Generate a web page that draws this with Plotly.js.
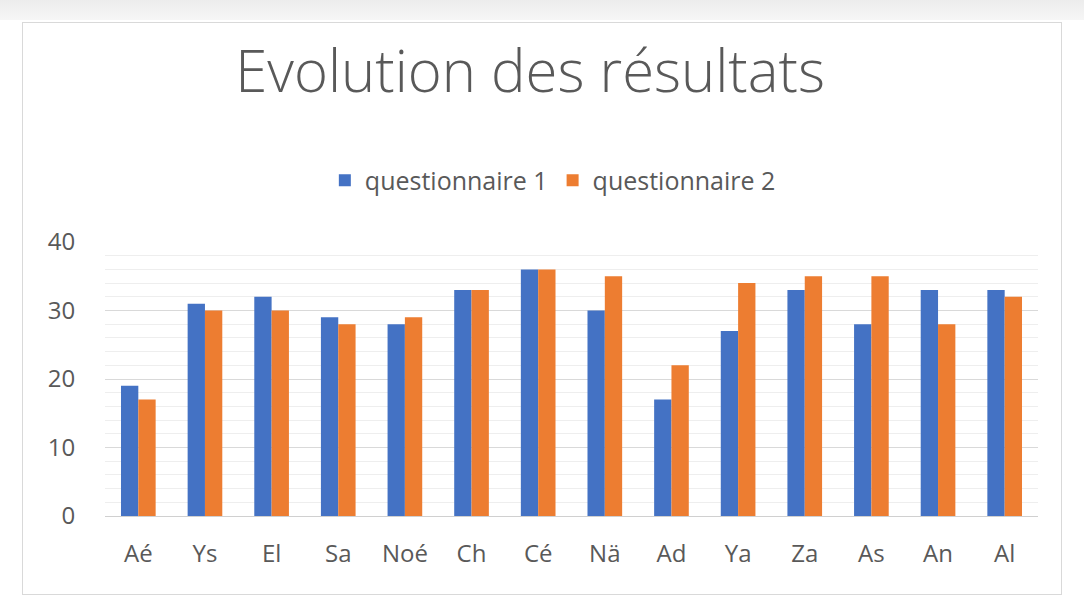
<!DOCTYPE html>
<html>
<head>
<meta charset="utf-8">
<script src="https://cdn.plot.ly/plotly-3.0.1.min.js"></script>
<style>
html,body{margin:0;padding:0;background:#ffffff;}
#top{position:absolute;left:0;top:0;width:1084px;height:20px;background:linear-gradient(#ececec,#f6f6f6);}
#box{position:absolute;left:22px;top:22px;width:1038px;height:571px;border:1px solid #d9d9d9;background:#fff;}
#chart{position:absolute;left:0;top:0;width:1084px;height:608px;}
</style>
</head>
<body>
<div id="top"></div>
<div id="box"></div>
<div id="chart"></div>
<script>
const categories = ["Aé","Ys","El","Sa","Noé","Ch","Cé","Nä","Ad","Ya","Za","As","An","Al"];
const questionnaire1 = [19,31,32,29,28,33,36,30,17,27,33,28,33,33];
const questionnaire2 = [17,30,30,28,29,33,36,35,22,34,35,35,28,32];
const seriesNames = ["questionnaire 1","questionnaire 2"];

const traces = [
  {type:'bar', x:categories, y:questionnaire1, name:seriesNames[0], marker:{color:'#4472C4'}},
  {type:'bar', x:categories, y:questionnaire2, name:seriesNames[1], marker:{color:'#ED7D31'}}
];

const layout = {
  width:1084, height:608,
  paper_bgcolor:'rgba(0,0,0,0)', plot_bgcolor:'rgba(0,0,0,0)',
  margin:{l:105, r:46, t:242, b:92},
  barmode:'group', bargap:0.48, bargroupgap:0,
  font:{family:'Open Sans, sans-serif', color:'#595959', size:24},
  title:{text:'Evolution des résultats', x:0.489, xref:'container', xanchor:'center', y:0.882, yref:'container', yanchor:'middle',
         font:{family:'Open Sans, sans-serif', size:58, color:'#595959', weight:300}},
  showlegend:true,
  legend:{orientation:'h', x:0.51, xref:'container', xanchor:'center', y:0.703, yref:'container', yanchor:'middle',
          font:{size:25, color:'#595959'}, itemwidth:30, traceorder:'normal'},
  xaxis:{showgrid:false, showline:true, linecolor:'#d0d0d0', linewidth:1, ticks:'outside', ticklen:16, tickcolor:'rgba(0,0,0,0)',
         tickfont:{size:24, color:'#595959'}, fixedrange:true},
  yaxis:{range:[0,40], dtick:10, showgrid:true, gridcolor:'#d9d9d9', gridwidth:1, zeroline:false, showline:false,
         ticks:'outside', ticklen:24, tickcolor:'rgba(0,0,0,0)', tickfont:{size:24, color:'#595959'},
         minor:{dtick:2, showgrid:true, gridcolor:'#eeeeee', gridwidth:1}, fixedrange:true}
};
Plotly.newPlot('chart', traces, layout, {displayModeBar:false, staticPlot:true});
</script>
</body>
</html>
